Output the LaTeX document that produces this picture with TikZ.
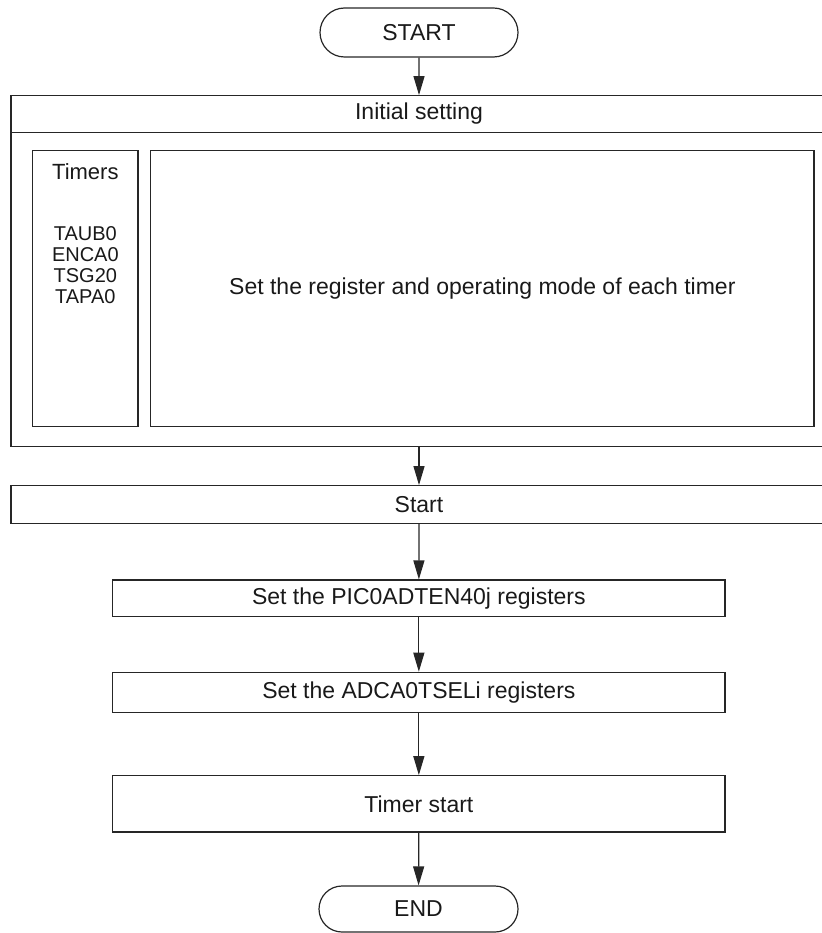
\documentclass[tikz,border=0pt]{standalone}
\usepackage{fontspec}
\setmainfont{Liberation Sans}
\usetikzlibrary{arrows.meta, shapes.misc}

\begin{document}
\begin{tikzpicture}[x=1pt, y=-1pt, >={Triangle[length=19pt, width=11pt]},
    box/.style={draw=black!85, line width=1.2pt, rectangle, inner sep=0pt, text=black!90,
                font=\fontsize{23}{23}\selectfont},
    term/.style={box, rounded rectangle},
    flow/.style={->, draw=black!85, line width=1.2pt}]
    \useasboundingbox (0,0) rectangle (821,933);
    % terminals
    \node[term, minimum width=198pt, minimum height=49pt] (start) at (419,32.5) {START};
    \node[term, minimum width=199pt, minimum height=46pt] (end) at (418.5,909) {END};
    % initial setting block
    \node[box, minimum width=816pt, minimum height=351pt] (init) at (419,271.2) {};
    \coordinate (hdr) at (11,132.7);
    \draw[draw=black!85, line width=1.2pt] (init.west |- hdr) -- (init.east |- hdr);
    \node[font=\fontsize{23}{23}\selectfont, text=black!90] (inittxt) at (419,114) {Initial setting};
    \node[box, minimum width=105.3pt, minimum height=276pt] (timers) at (85.35,288.7) {};
    \node[font=\fontsize{22}{22}\selectfont, text=black!90, anchor=base, inner sep=0pt]
        (timerhead) at (85.35,180) {Timers};
    \node[font=\fontsize{20}{21}\selectfont, text=black!90, align=center, anchor=north, inner sep=0pt]
        (timerlist) at (85.35,226.5) {TAUB0\\ENCA0\\TSG20\\TAPA0};
    \node[box, minimum width=663.3pt, minimum height=276pt] (mode) at (482.35,288.7)
        {Set the register and operating mode of each timer};
    % steps
    \node[box, minimum width=816pt, minimum height=37.6pt] (run) at (419,504.5) {Start};
    \node[box, minimum width=612.3pt, minimum height=36.7pt] (pic) at (418.85,598.35) {Set the PIC0ADTEN40j registers};
    \node[box, minimum width=612.3pt, minimum height=40.4pt] (adc) at (418.85,692.5) {Set the ADCA0TSELi registers};
    \node[box, minimum width=612.3pt, minimum height=56.3pt] (tstart) at (418.85,803.85) {Timer start};
    % arrows
    \draw[flow] (start) -- (init);
    \draw[flow] (init) -- (run);
    \draw[flow] (run) -- (pic);
    \draw[flow] (pic) -- (adc);
    \draw[flow] (adc) -- (tstart);
    \draw[flow] (tstart) -- (end);
\end{tikzpicture}
\end{document}
